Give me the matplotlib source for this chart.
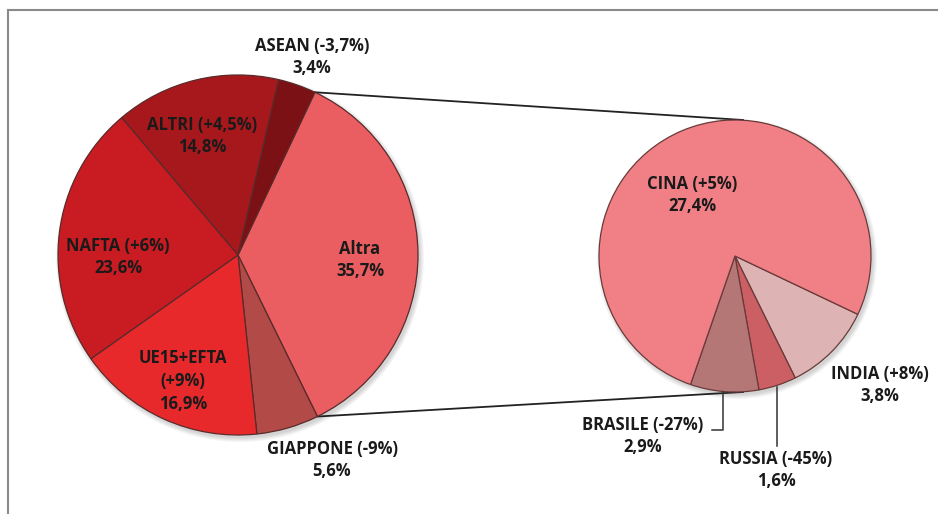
import numpy as np
import matplotlib
matplotlib.use('Agg')
import matplotlib.pyplot as plt
from matplotlib.patches import Circle

plt.rcParams['font.family'] = ['Open Sans', 'DejaVu Sans']

# torta principale: quote sul totale
main_names = ['Altra', 'GIAPPONE (-9%)', 'UE15+EFTA\n(+9%)', 'NAFTA (+6%)', 'ALTRI (+4,5%)', 'ASEAN (-3,7%)']
main_values = [35.7, 5.6, 16.9, 23.6, 14.8, 3.4]
main_colors = ['#EA5D60', '#B24B48', '#E8292C', '#C91B22', '#A7181D', '#7B1015']

# dettaglio della fetta "Altra"
sub_names = ['INDIA (+8%)', 'RUSSIA (-45%)', 'BRASILE (-27%)', 'CINA (+5%)']
sub_values = [3.8, 1.6, 2.9, 27.4]
sub_colors = ['#DDB3B3', '#CC5F63', '#B57676', '#F08086']

W, H = 938, 514
fig = plt.figure(figsize=(W / 100, H / 100), dpi=100)
ax = fig.add_axes([0, 0, 1, 1])

def fmt(v):
    return ('%.1f%%' % v).replace('.', ',')

c1, r1 = (238, H - 255), 180
c2, r2 = (735, H - 256), 136

# ombra leggera sotto le torte
for (cx, cy), r in [(c1, r1), (c2, r2)]:
    for k in range(5):
        ax.add_patch(Circle((cx + 2, cy - 3), r + 4 - k, color='#000000',
                            alpha=0.035, lw=0, zorder=0))

w1, _ = ax.pie(main_values, colors=main_colors, startangle=64.7, counterclock=False,
               center=c1, radius=r1, frame=True,
               wedgeprops=dict(edgecolor='#5a2a2a', linewidth=0.9))
w2, _ = ax.pie(sub_values, colors=sub_colors, startangle=-25.4, counterclock=False,
               center=c2, radius=r2, frame=True,
               wedgeprops=dict(edgecolor='#6a3a3a', linewidth=0.9))
ax.set_xlim(0, W)
ax.set_ylim(0, H)
ax.set_aspect('equal')
ax.axis('off')

# cornice: solo bordo alto e sinistro
ax.plot([8, W], [H - 10, H - 10], color='#8a8a8a', lw=1.5)
ax.plot([8, 8], [H - 10, 0], color='#8a8a8a', lw=1.5)

# linee di collegamento tra "Altra" e la torta di dettaglio
altra = w1[0]
for ang, yy in [(altra.theta2, c2[1] + r2), (altra.theta1, c2[1] - r2)]:
    x0 = c1[0] + r1 * np.cos(np.radians(ang))
    y0 = c1[1] + r1 * np.sin(np.radians(ang))
    ax.plot([x0, c2[0] + 8], [y0, yy], color='#222222', lw=1.3, zorder=0.5)

main_pos = [(360, 260), (332, 460), (183, 381), (118, 257), (202, 136), (312, 57)]
sub_pos = [(880, 385), (776, 470), (643, 436), (692, 195)]

txt = dict(ha='center', va='center', fontsize=12, fontweight='bold',
           color='#1a1a1a', linespacing=1.35)
for name, v, (x, y) in zip(main_names, main_values, main_pos):
    ax.text(x, H - y, name + '\n' + fmt(v), **txt)
for name, v, (x, y) in zip(sub_names, sub_values, sub_pos):
    ax.text(x, H - y, name + '\n' + fmt(v), **txt)

# richiami per BRASILE e RUSSIA
ax.plot([712, 723, 723], [H - 430, H - 430, H - 392], color='#333333', lw=1.1)
ax.plot([777, 777], [H - 387, H - 446], color='#333333', lw=1.1)

fig.savefig('out.png', dpi=100, facecolor='white')
